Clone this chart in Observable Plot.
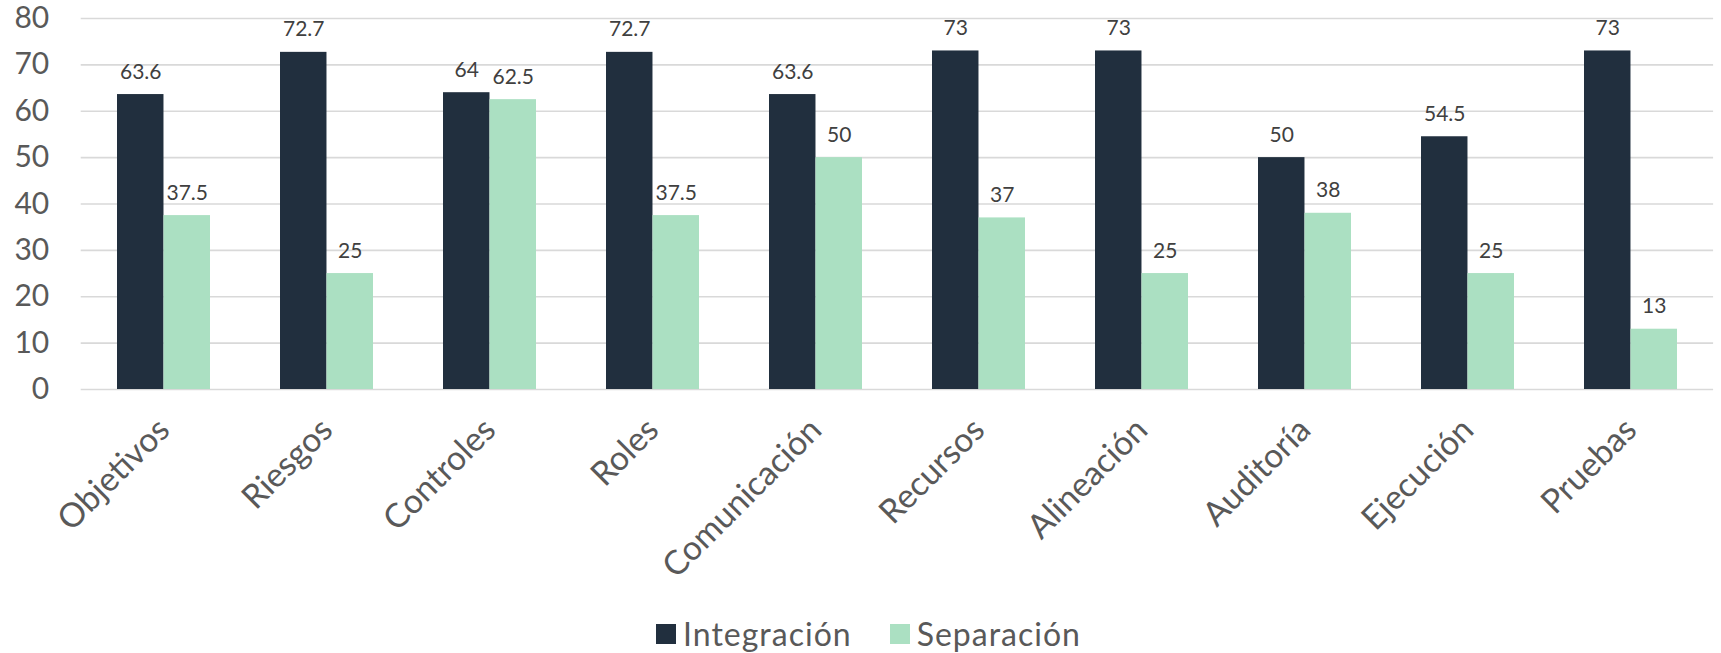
<!DOCTYPE html>
<html>
<head>
<meta charset="utf-8">
<script src="https://cdn.jsdelivr.net/npm/d3@7"></script>
<script src="https://cdn.jsdelivr.net/npm/@observablehq/plot@0.6"></script>
<style>
  html, body { margin: 0; padding: 0; background: #fff; }
  body { width: 1721px; height: 653px; overflow: hidden; font-family: Lato, sans-serif; }
  #legend { display: flex; justify-content: center; padding-left: 54px; height: 53px; }
  #legend > div { display: flex; align-items: center; font-family: Lato, sans-serif; font-size: 32px; color: #595959; letter-spacing: 1px; margin: 0 !important; line-height: 38px; padding-top: 14px; min-height: 0 !important; }
  #legend span { margin-right: 38px !important; display: inline-flex; align-items: center; }
  #legend span > svg { margin-right: 7px !important; }
</style>
</head>
<body>
<div id="chart"></div>
<div id="legend"></div>
<script>
const categories = ["Objetivos","Riesgos","Controles","Roles","Comunicación","Recursos","Alineación","Auditoría","Ejecución","Pruebas"];
const integracion = [63.6, 72.7, 64, 72.7, 63.6, 73, 73, 50, 54.5, 73];
const separacion = [37.5, 25, 62.5, 37.5, 50, 37, 25, 38, 25, 13];
const seriesNames = ["Integración", "Separación"];
const seriesColors = ["#212f3e", "#abe0c2"];
const yTicks = [0, 10, 20, 30, 40, 50, 60, 70, 80];

const rows = [];
categories.forEach((c, i) => {
  rows.push({category: c, series: seriesNames[0], value: integracion[i]});
  rows.push({category: c, series: seriesNames[1], value: separacion[i]});
});
const intRows = rows.filter(d => d.series === seriesNames[0]);
const sepRows = rows.filter(d => d.series === seriesNames[1]);

const W = 1721, H = 600;
const mL = 80.7, mR = 1721 - 1713.1;
const pInner = 0.43;
const step = (W - mL - mR) / categories.length;
const half = step * (1 - pInner) / 2;

const chart = Plot.plot({
  width: W,
  height: H,
  marginLeft: mL,
  marginRight: mR,
  marginTop: 18,
  marginBottom: 211,
  style: {fontFamily: "Lato, sans-serif", background: "#fff", overflow: "visible"},
  x: {domain: categories, paddingInner: pInner, paddingOuter: pInner / 2},
  y: {domain: [0, 80]},
  color: {domain: seriesNames, range: seriesColors},
  marks: [
    Plot.ruleY(yTicks, {stroke: "#d9d9d9", strokeWidth: 1.6}),
    Plot.barY(intRows, {x: "category", y: "value", fill: "series", insetRight: half}),
    Plot.barY(sepRows, {x: "category", y: "value", fill: "series", insetLeft: half}),
    Plot.text(intRows, {x: "category", y: "value", text: d => String(d.value), dx: -half / 2, dy: -16, lineAnchor: "bottom", fontSize: 21, fill: "#404040"}),
    Plot.text(sepRows, {x: "category", y: "value", text: d => String(d.value), dx: half / 2, dy: -16, lineAnchor: "bottom", fontSize: 21, fill: "#404040"}),
    Plot.axisY({ticks: yTicks, tickSize: 0, tickPadding: 32, fontSize: 30, color: "#595959", label: null}),
    Plot.axisX({tickSize: 0, tickPadding: 35, tickRotate: -45, textAnchor: "end", lineAnchor: "middle", fontSize: 33.5, color: "#595959", label: null})
  ]
});
document.getElementById("chart").appendChild(chart);

const leg = Plot.legend({
  color: {type: "ordinal", domain: seriesNames, range: seriesColors},
  swatchSize: 20,
  className: "lg"
});
document.getElementById("legend").appendChild(leg);
</script>
</body>
</html>
